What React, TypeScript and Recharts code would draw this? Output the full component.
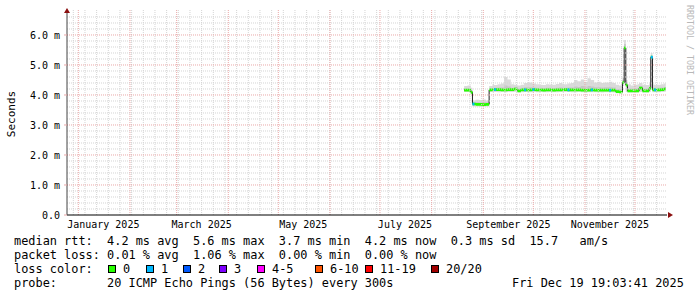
import React from "react";
import {
  ComposedChart,
  Area,
  Scatter,
  XAxis,
  YAxis,
  ReferenceLine,
  ReferenceDot,
} from "recharts";

const DAY = 86400000;
const rangeStart = Date.UTC(2024, 11, 25, 5, 17);
const rangeEnd = rangeStart + 360 * DAY;
const yMax = 6.8333;

// one entry per sample (2025)
const dates = [
  "08-20", "08-22", "08-24", "08-25", "08-27", "08-29", "08-31", "09-02", "09-04", "09-06",
  "09-07", "09-09", "09-11", "09-13", "09-15", "09-17", "09-19", "09-21", "09-23", "09-25",
  "09-27", "09-30", "10-02", "10-04", "10-06", "10-08", "10-10", "10-12", "10-14", "10-16",
  "10-18", "10-21", "10-23", "10-25", "10-27", "10-29", "10-31", "11-02", "11-04", "11-06",
  "11-08", "11-10", "11-12", "11-15", "11-17", "11-19", "11-21", "11-23", "11-24", "11-25",
  "11-26", "11-28", "11-30", "12-02", "12-03", "12-05", "12-07", "12-09", "12-10", "12-11",
  "12-12", "12-14", "12-16", "12-18", "12-19",
];
const median = [
  4.16, 4.16, 4.09, 3.70, 3.69, 3.69, 3.68, 3.69, 4.17, 4.18,
  4.18, 4.18, 4.17, 4.17, 4.18, 4.18, 4.20, 4.14, 4.17, 4.17,
  4.17, 4.18, 4.17, 4.17, 4.16, 4.17, 4.17, 4.16, 4.17, 4.17,
  4.18, 4.17, 4.17, 4.17, 4.17, 4.16, 4.16, 4.16, 4.17, 4.16,
  4.16, 4.16, 4.16, 4.16, 4.16, 4.11, 4.10, 4.41, 5.57, 4.33,
  4.14, 4.14, 4.14, 4.14, 4.23, 4.14, 4.14, 4.22, 5.26, 4.17,
  4.17, 4.17, 4.18, 4.20, 4.20,
];
const smokeLow = [
  4.10, 4.10, 4.05, 3.62, 3.62, 3.61, 3.62, 3.62, 4.10, 4.10,
  4.10, 4.09, 4.10, 4.09, 4.10, 4.10, 4.11, 4.08, 4.09, 4.10,
  4.09, 4.10, 4.09, 4.10, 4.09, 4.09, 4.10, 4.09, 4.09, 4.10,
  4.10, 4.10, 4.09, 4.09, 4.10, 4.09, 4.09, 4.09, 4.09, 4.09,
  4.09, 4.08, 4.09, 4.09, 4.08, 4.06, 4.05, 4.30, 4.40, 4.10,
  4.08, 4.08, 4.08, 4.08, 4.10, 4.08, 4.08, 4.10, 4.40, 4.09,
  4.09, 4.09, 4.10, 4.11, 4.11,
];
const smokeHigh = [
  4.30, 4.32, 4.24, 3.82, 3.84, 3.83, 3.85, 3.82, 4.30, 4.35,
  4.33, 4.36, 4.38, 4.60, 4.52, 4.36, 4.34, 4.32, 4.34, 4.40,
  4.42, 4.38, 4.36, 4.34, 4.33, 4.36, 4.35, 4.34, 4.37, 4.40,
  4.36, 4.38, 4.40, 4.50, 4.46, 4.52, 4.44, 4.56, 4.50, 4.42,
  4.44, 4.40, 4.42, 4.44, 4.40, 4.34, 4.32, 4.62, 5.83, 4.50,
  4.36, 4.32, 4.34, 4.36, 4.40, 4.34, 4.33, 4.38, 5.40, 4.36,
  4.34, 4.34, 4.36, 4.38, 4.75,
];
const smokeCore = [
  4.22, 4.22, 4.15, 3.76, 3.76, 3.75, 3.76, 3.75, 4.22, 4.24,
  4.24, 4.25, 4.25, 4.32, 4.28, 4.24, 4.26, 4.22, 4.24, 4.26,
  4.26, 4.25, 4.24, 4.24, 4.23, 4.24, 4.24, 4.23, 4.24, 4.25,
  4.24, 4.25, 4.25, 4.28, 4.27, 4.30, 4.26, 4.30, 4.28, 4.26,
  4.26, 4.25, 4.26, 4.26, 4.25, 4.20, 4.20, 4.50, 5.70, 4.38,
  4.22, 4.22, 4.22, 4.22, 4.30, 4.22, 4.22, 4.28, 5.32, 4.24,
  4.24, 4.24, 4.25, 4.27, 4.26,
];
const lossCount = [
  0, 0, 0, 1, 0, 0, 0, 0, 0, 0,
  1, 0, 0, 0, 0, 0, 0, 0, 0, 1,
  0, 1, 0, 0, 0, 0, 0, 0, 0, 0,
  0, 1, 0, 0, 0, 0, 0, 0, 1, 0,
  0, 0, 0, 1, 0, 0, 0, 0, 0, 0,
  0, 0, 0, 0, 0, 0, 0, 0, 1, 0,
  1, 0, 0, 0, 0,
];

const monthStarts = [
  "2025-01-01", "2025-02-01", "2025-03-01", "2025-04-01", "2025-05-01", "2025-06-01",
  "2025-07-01", "2025-08-01", "2025-09-01", "2025-10-01", "2025-11-01", "2025-12-01",
];
const labelDates = ["2025-01-16", "2025-03-16", "2025-05-16", "2025-07-16", "2025-09-16", "2025-11-16"];
const labelNames = ["January 2025", "March 2025", "May 2025", "July 2025", "September 2025", "November 2025"];
const firstSunday = "2024-12-29";

const yTicks = [0, 1, 2, 3, 4, 5, 6];
const yTickLabels = ["0.0", "1.0 m", "2.0 m", "3.0 m", "4.0 m", "5.0 m", "6.0 m"];

const lossNames = ["0", "1", "2", "3", "4-5", "6-10", "11-19", "20/20"];
const lossColors = ["#26ff00", "#00b8ff", "#0059ff", "#7e00ff", "#ff00ff", "#ff5500", "#ff0000", "#a10000"];

const ts = (s: string) => {
  const [y, m, d] = s.split("-").map(Number);
  return Date.UTC(y, m - 1, d);
};

const rows = dates.map((d, i) => {
  const [m, day] = d.split("-").map(Number);
  return {
    t: Date.UTC(2025, m - 1, day, 12),
    median: median[i],
    smoke: [smokeLow[i], smokeHigh[i]],
    core: [median[i], smokeCore[i]],
    band: [median[i] - 0.045, median[i] + 0.045],
    loss: lossCount[i],
  };
});
const lossRows = rows.filter((r) => r.loss > 0);

const majorX = monthStarts.map(ts);
const labelX = labelDates.map(ts);
const minorX: number[] = [];
for (let t = ts(firstSunday); t < rangeEnd; t += 7 * DAY) minorX.push(t);
const minorY: number[] = [];
for (let i = 1; i <= 33; i++) if (i % 5 !== 0) minorY.push(i * 0.2);

const MONO = "'DejaVu Sans Mono', monospace";
const minorColor = "#d4d4d4";
const majorColor = "#eaa8a8";
const arrowColor = "#8b1010";

// legend item left edges
const lossItemX = [108, 146, 183, 219, 257, 315, 365, 431];

export default function App() {
  return (
    <div
      style={{
        position: "absolute",
        left: 0,
        top: 0,
        width: 697,
        height: 297,
        background: "#fff",
        fontFamily: MONO,
        color: "#000",
        overflow: "hidden",
      }}
    >
      <ComposedChart
        width={697}
        height={235}
        data={rows}
        margin={{ top: 10, right: 30, left: 0, bottom: 0 }}
      >
        {minorX.map((x) => (
          <ReferenceLine key={`vx${x}`} x={x} stroke={minorColor} strokeDasharray="1 1" ifOverflow="hidden" />
        ))}
        {minorY.map((y) => (
          <ReferenceLine key={`hy${y}`} y={y} stroke={minorColor} strokeDasharray="1 1" />
        ))}
        {majorX.map((x) => (
          <ReferenceLine key={`mx${x}`} x={x} stroke={majorColor} strokeDasharray="1 1" />
        ))}
        {yTicks.slice(1).map((y) => (
          <ReferenceLine key={`my${y}`} y={y} stroke={majorColor} strokeDasharray="1 1" />
        ))}
        <XAxis
          dataKey="t"
          type="number"
          domain={[rangeStart, rangeEnd]}
          allowDataOverflow
          ticks={labelX}
          interval={0}
          height={20}
          tickSize={0}
          tickMargin={6}
          tickFormatter={(v) => labelNames[labelX.indexOf(v)] ?? ""}
          tick={{ fill: "#000", fontSize: 10, fontFamily: MONO }}
          axisLine={{ stroke: "#000" }}
        />
        <YAxis
          type="number"
          domain={[0, yMax]}
          allowDataOverflow
          ticks={yTicks}
          interval={0}
          width={67}
          tickSize={3}
          tickMargin={4}
          tickLine={{ stroke: majorColor }}
          tickFormatter={(v) => yTickLabels[yTicks.indexOf(v)] ?? ""}
          tick={{ fill: "#000", fontSize: 10, fontFamily: MONO }}
          axisLine={{ stroke: "#444" }}
        />
        <Area
          dataKey="smoke"
          type="stepAfter"
          fill="#dadada"
          fillOpacity={1}
          stroke="none"
          isAnimationActive={false}
        />
        <Area
          dataKey="core"
          type="stepAfter"
          fill="#c6c6c6"
          fillOpacity={1}
          stroke="none"
          isAnimationActive={false}
        />
        <Area
          dataKey="median"
          type="stepAfter"
          fill="none"
          stroke="#202020"
          strokeWidth={1}
          dot={false}
          activeDot={false}
          isAnimationActive={false}
        />
        <Area
          dataKey="band"
          type="stepAfter"
          fill={lossColors[0]}
          fillOpacity={1}
          stroke="none"
          isAnimationActive={false}
        />
        <Scatter
          data={lossRows}
          dataKey="median"
          isAnimationActive={false}
          shape={(p: any) => (
            <rect x={p.cx} y={p.cy - 1.35} width={2} height={2.7} fill={lossColors[1]} />
          )}
        />
        <ReferenceDot
          x={rangeEnd}
          y={0}
          ifOverflow="visible"
          shape={(p: any) => (
            <polygon
              points={`${p.cx + 1},${p.cy - 3} ${p.cx + 6},${p.cy} ${p.cx + 1},${p.cy + 3}`}
              fill={arrowColor}
            />
          )}
        />
        <ReferenceDot
          x={rangeStart}
          y={yMax}
          ifOverflow="visible"
          shape={(p: any) => (
            <polygon
              points={`${p.cx - 3},${p.cy + 3} ${p.cx},${p.cy - 2} ${p.cx + 3},${p.cy + 3}`}
              fill={arrowColor}
            />
          )}
        />
      </ComposedChart>

      <div
        style={{
          position: "absolute",
          left: 4,
          top: 114,
          fontSize: 11,
          lineHeight: "13px",
          transform: "translate(0, -50%) rotate(-90deg)",
          transformOrigin: "center",
          width: 14,
          display: "flex",
          justifyContent: "center",
          whiteSpace: "nowrap",
        }}
      >
        <span style={{ display: "inline-block" }}>Seconds</span>
      </div>

      <div
        style={{
          position: "absolute",
          left: 694,
          top: 5,
          fontSize: 8.3,
          lineHeight: "9px",
          color: "#b8b8b8",
          transform: "rotate(90deg)",
          transformOrigin: "left top",
          whiteSpace: "nowrap",
        }}
      >
        RRDTOOL / TOBI OETIKER
      </div>

      <div
        style={{
          position: "absolute",
          left: 14,
          top: 233.8,
          fontSize: 11.9,
          lineHeight: "14.1px",
          whiteSpace: "pre",
        }}
      >
        <div>median rtt:  4.2 ms avg  5.6 ms max  3.7 ms min  4.2 ms now  0.3 ms sd  15.7   am/s</div>
        <div>packet loss: 0.01 % avg  1.06 % max  0.00 % min  0.00 % now</div>
        <div>loss color:</div>
        <div>probe:       20 ICMP Echo Pings (56 Bytes) every 300s</div>
      </div>

      {lossNames.map((name, i) => (
        <div
          key={name}
          style={{
            position: "absolute",
            left: lossItemX[i],
            top: 262,
            height: 14,
            display: "flex",
            alignItems: "center",
            fontSize: 11.9,
            whiteSpace: "pre",
          }}
        >
          <span
            style={{
              display: "inline-block",
              width: 8,
              height: 8,
              boxSizing: "border-box",
              border: "1px solid #000",
              background: lossColors[i],
              marginRight: 7,
            }}
          />
          <span>{name}</span>
        </div>
      ))}

      <div
        style={{
          position: "absolute",
          left: 512,
          top: 275.9,
          fontSize: 11.9,
          lineHeight: "14.1px",
          whiteSpace: "pre",
        }}
      >
        Fri Dec 19 19:03:41 2025
      </div>
    </div>
  );
}
